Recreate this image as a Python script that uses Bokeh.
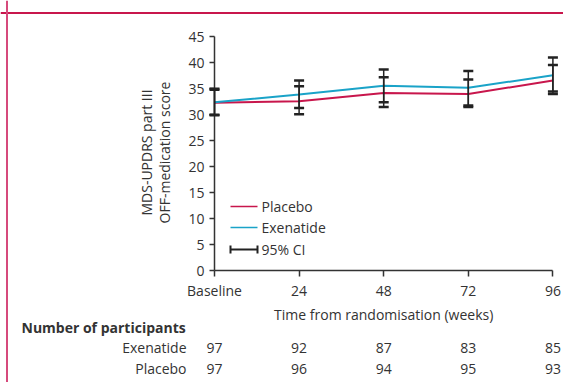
import math
from bokeh.plotting import figure
from bokeh.models import (Range1d, LinearAxis, FixedTicker, Whisker, TeeHead,
                          ColumnDataSource, Span)
from bokeh.core.properties import value
from bokeh.embed import file_html
from bokeh.resources import INLINE

# ---------------- data ----------------
weeks = [0, 24, 48, 72, 96]
x_tick_labels = ["Baseline", "24", "48", "72", "96"]
y_ticks = [0, 5, 10, 15, 20, 25, 30, 35, 40, 45]

placebo_mean = [32.3, 32.6, 34.2, 34.0, 36.6]
placebo_lo = [29.9, 30.1, 31.5, 31.5, 34.0]
placebo_hi = [34.8, 35.5, 37.2, 36.8, 39.6]

exenatide_mean = [32.4, 33.9, 35.6, 35.2, 37.6]
exenatide_lo = [30.0, 31.3, 32.4, 31.8, 34.5]
exenatide_hi = [35.0, 36.6, 38.7, 38.4, 41.0]

n_exenatide = [97, 92, 87, 83, 85]
n_placebo = [97, 96, 94, 95, 93]

series_names = ["Placebo", "Exenatide"]
ci_label = "95% CI"
y_title = ["MDS-UPDRS part III", "OFF-medication score"]
x_title = "Time from randomisation (weeks)"
table_title = "Number of participants"

# ---------------- layout ----------------
W, H = 563, 382
PAGE = 0
X0_PX, X_PER_WEEK = 214 - PAGE, 3.525     # figure px of week 0, px per week
Y0_PX, Y_PER_UNIT = 270.3 - PAGE, 5.2     # figure px (from top) of score 0

x_lo = -X0_PX / X_PER_WEEK
x_hi = (W - X0_PX) / X_PER_WEEK
y_hi = Y0_PX / Y_PER_UNIT
y_lo = (Y0_PX - H) / Y_PER_UNIT


def px(xp):  # page pixel x -> data x
    return (xp - PAGE - X0_PX) / X_PER_WEEK


def py(yp):  # page pixel y -> data y
    return (Y0_PX - (yp - PAGE)) / Y_PER_UNIT


FONT = "Open Sans"
TXT = "#333333"
RED = "#c8164c"
BLUE = "#1aa3c8"
DARK = "#222222"

p = figure(width=W, height=H, output_backend="svg", toolbar_location=None,
           x_range=Range1d(x_lo, x_hi), y_range=Range1d(y_lo, y_hi),
           x_axis_type=None, y_axis_type=None, min_border=0)
p.outline_line_color = None
p.grid.visible = False
p.background_fill_color = "white"
p.border_fill_color = "white"

# frame lines (decoration)
p.add_layout(Span(location=py(12.5), dimension="width", line_color=RED, line_width=2))
p.add_layout(Span(location=px(6.5), dimension="height", line_color="#d64a7c", line_width=2))

# axes
yaxis = LinearAxis(fixed_location=0, bounds=(0, 45), ticker=FixedTicker(ticks=y_ticks))
xaxis = LinearAxis(fixed_location=0, bounds=(0, 96), ticker=FixedTicker(ticks=weeks),
                   major_label_overrides={w: l for w, l in zip(weeks, x_tick_labels)})
for ax in (xaxis, yaxis):
    ax.axis_line_color = "#333333"
    ax.axis_line_width = 1.5
    ax.major_tick_line_color = "#333333"
    ax.major_tick_line_width = 1.5
    ax.major_tick_in = 0
    ax.minor_tick_line_color = None
    ax.major_label_text_font = FONT
    ax.major_label_text_font_size = "14px"
    ax.major_label_text_color = TXT
yaxis.major_tick_out = 5
yaxis.major_label_standoff = 5
xaxis.major_tick_out = 6
xaxis.major_label_standoff = 4
p.add_layout(yaxis, "left")
p.add_layout(xaxis, "below")

# lines
p.line(weeks, placebo_mean, line_color=RED, line_width=2)
p.line(weeks, exenatide_mean, line_color=BLUE, line_width=2)

# error bars
for lo, hi in ((placebo_lo, placebo_hi), (exenatide_lo, exenatide_hi)):
    src = ColumnDataSource(dict(x=weeks, lo=lo, hi=hi))
    wk = Whisker(source=src, base="x", lower="lo", upper="hi", dimension="height",
                 line_color=DARK, line_width=1.5, level="annotation",
                 upper_head=TeeHead(size=10, line_color=DARK, line_width=2.5),
                 lower_head=TeeHead(size=10, line_color=DARK, line_width=2.5))
    p.add_layout(wk)

# legend (manual)
lx0, lx1, ltx = px(230), px(257), px(261)
for yp, col, name in ((206, RED, series_names[0]), (227, BLUE, series_names[1])):
    p.segment(x0=[lx0], y0=[py(yp)], x1=[lx1], y1=[py(yp)], line_color=col, line_width=1.5)
    p.text(x=[ltx], y=[py(yp)], text=[name], text_font=value(FONT), text_font_size="14px",
           text_color=TXT, text_baseline="middle", text_align="left")
p.segment(x0=[lx0], y0=[py(249)], x1=[lx1], y1=[py(249)], line_color=DARK, line_width=2)
p.segment(x0=[lx0, lx1], y0=[py(245), py(245)], x1=[lx0, lx1], y1=[py(253), py(253)],
          line_color=DARK, line_width=2)
p.text(x=[ltx], y=[py(249)], text=[ci_label], text_font=value(FONT), text_font_size="14px",
       text_color=TXT, text_baseline="middle", text_align="left")

# axis titles
p.text(x=[px(146), px(164)], y=[py(152), py(152)], text=y_title, angle=math.pi / 2,
       text_font=value(FONT), text_font_size="14px", text_color=TXT,
       text_align="center", text_baseline="middle")
p.text(x=[48], y=[py(314)], text=[x_title], text_font=value(FONT), text_font_size="14px",
       text_color=TXT, text_align="center", text_baseline="middle")

# participants table
p.text(x=[px(21)], y=[py(327)], text=[table_title], text_font=value(FONT),
       text_font_size="14px", text_font_style="bold", text_color=TXT,
       text_align="left", text_baseline="middle")
for yp, name, ns in ((347, "Exenatide", n_exenatide), (368, "Placebo", n_placebo)):
    p.text(x=[px(186)], y=[py(yp)], text=[name], text_font=value(FONT), text_font_size="14px",
           text_color=TXT, text_align="right", text_baseline="middle")
    p.text(x=weeks, y=[py(yp)] * len(weeks), text=[str(n) for n in ns],
           text_font=value(FONT), text_font_size="14px", text_color=TXT,
           text_align="center", text_baseline="middle")

open("out.html", "w").write(file_html(p, INLINE))
